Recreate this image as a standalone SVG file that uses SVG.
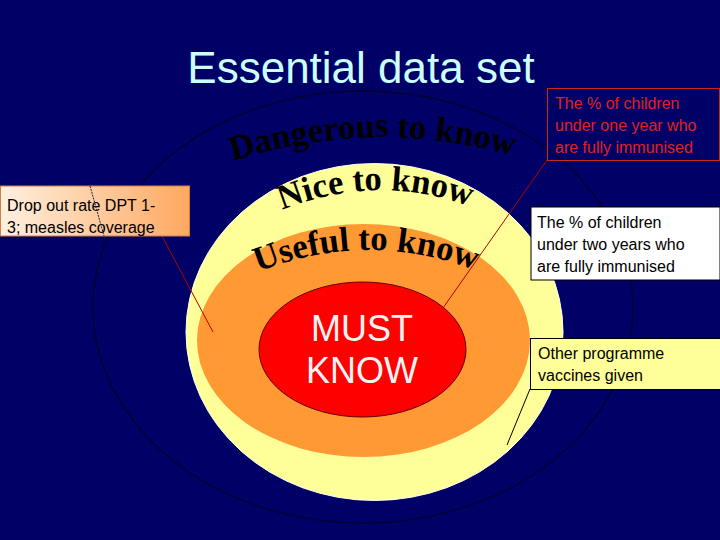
<svg xmlns="http://www.w3.org/2000/svg" width="720" height="540" viewBox="0 0 720 540">
<style>
.lbl{font-family:"Liberation Sans",Arial,sans-serif;font-size:16px;fill:#000}
.arc{font-family:"Liberation Serif","Times New Roman",serif;font-weight:bold;font-size:35px;fill:#000}
.conn{fill:none;stroke-width:1}
</style>
<defs>
<linearGradient id="peach" x1="0" y1="0" x2="1" y2="0">
<stop offset="0" stop-color="#fff0e0"/>
<stop offset="1" stop-color="#ffa860"/>
</linearGradient>
<path id="pDanger" d="M233,161 Q375,116 517,157"/>
<path id="pNice" d="M282,210 Q377,172 472,207"/>
<path id="pUseful" d="M258,272 Q366,229 475,270"/>
</defs>
<rect width="720" height="540" fill="#000066"/>
<text x="361" y="83" text-anchor="middle" font-family="Liberation Sans,Arial,sans-serif" font-size="44" fill="#ccffff">Essential data set</text>
<g id="dangerous">
<ellipse cx="363" cy="307" rx="270" ry="216" fill="none" stroke="#000033" stroke-width="1.5"/>
<text class="arc" font-size="34"><textPath href="#pDanger" textLength="284" lengthAdjust="spacingAndGlyphs">Dangerous to know</textPath></text>
</g>
<g id="nice">
<ellipse cx="374.5" cy="332" rx="188.5" ry="168.5" fill="#ffff99" stroke="#fffff0" stroke-width="1"/>
<text class="arc" font-size="35"><textPath href="#pNice" textLength="192" lengthAdjust="spacingAndGlyphs">Nice to know</textPath></text>
</g>
<g id="useful">
<ellipse cx="363.5" cy="340.5" rx="166.5" ry="116.5" fill="#ff9933"/>
<text class="arc"><textPath href="#pUseful" textLength="222" lengthAdjust="spacingAndGlyphs">Useful to know</textPath></text>
</g>
<g id="must">
<ellipse cx="362.5" cy="349.5" rx="103.5" ry="67.5" fill="#ff0000" stroke="#660000" stroke-width="1"/>
<text x="362" y="341" text-anchor="middle" font-family="Liberation Sans,Arial,sans-serif" font-size="36" fill="#f4f4f4">MUST</text>
<text x="362" y="383" text-anchor="middle" font-family="Liberation Sans,Arial,sans-serif" font-size="36" fill="#f4f4f4">KNOW</text>
</g>
<g id="connectors">
<line class="conn" x1="162" y1="236" x2="213" y2="332" stroke="#b00000"/>
<line class="conn" x1="547" y1="160" x2="443" y2="308" stroke="#b00000"/>
<line class="conn" x1="530" y1="389" x2="507" y2="445" stroke="#000"/>
</g>
<g id="box-dropout">
<rect x="0.5" y="186" width="189" height="50" fill="url(#peach)" stroke="#d08040" stroke-width="1"/>
<text class="lbl" x="7" y="211">Drop out rate DPT 1-</text>
<text class="lbl" x="7" y="233">3; measles coverage</text>
<line x1="90" y1="186" x2="104" y2="236" stroke="#202040" stroke-width="1" stroke-dasharray="2,1"/>
</g>
<g id="box-oneyear">
<rect x="547.5" y="88.5" width="172" height="72" fill="none" stroke="#cc2222" stroke-width="1"/>
<text class="lbl" x="555" y="109" style="fill:#e02020">The % of children</text>
<text class="lbl" x="555" y="131" style="fill:#e02020">under one year who</text>
<text class="lbl" x="555" y="153" style="fill:#e02020">are fully immunised</text>
</g>
<g id="box-twoyears">
<rect x="531" y="207" width="189" height="73" fill="#ffffff" stroke="#000" stroke-width="1"/>
<text class="lbl" x="537" y="228">The % of children</text>
<text class="lbl" x="537" y="250">under two years who</text>
<text class="lbl" x="537" y="272">are fully immunised</text>
</g>
<g id="box-other">
<rect x="530.5" y="338.5" width="190" height="51" fill="#ffff99" stroke="#000" stroke-width="1"/>
<text class="lbl" x="538" y="359">Other programme</text>
<text class="lbl" x="538" y="381">vaccines given</text>
</g>
</svg>
